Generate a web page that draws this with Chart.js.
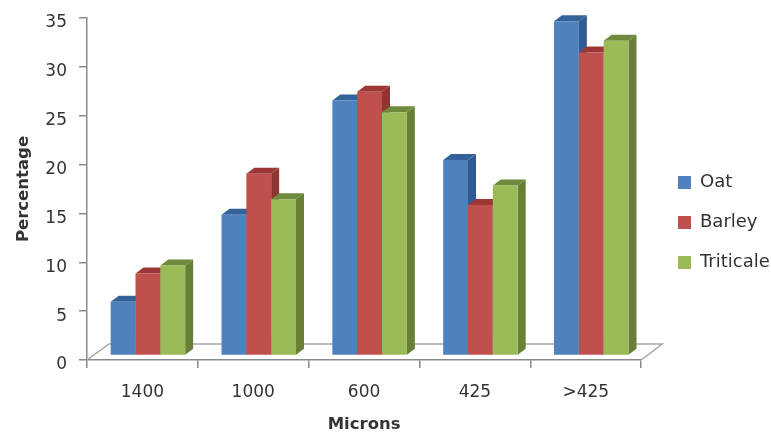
<!DOCTYPE html>
<html>
<head>
<meta charset="utf-8">
<style>
  html, body { margin: 0; padding: 0; background: #fff; }
  canvas { display: block; }
</style>
<script src="https://cdn.jsdelivr.net/npm/chart.js@4"></script>
</head>
<body>
<canvas id="chart" width="771" height="435"></canvas>
<script>
const categories = ['1400', '1000', '600', '425', '>425'];
const oat = [5.5, 14.4, 26.1, 20, 34.2];
const barley = [8.4, 18.6, 27, 15.4, 31];
const triticale = [9.2, 16, 24.9, 17.4, 32.2];

const textColor = '#333333';
const axisColor = '#8a8a8a';
const fontName = '"DejaVu Sans", sans-serif';

// darker shades for the side and top faces of the bars
const sideColors = ['#2f5b92', '#8f3533', '#677f37'];
const topColors = ['#34639c', '#9c3735', '#6f8a3c'];

const depthX = 8;
const depthY = 6;
const shiftX = 5.5;
const shiftY = -4.5;
const legendLeft = 656;
const legendLift = 4;

function fillPoly(ctx, color, pts) {
  ctx.fillStyle = color;
  ctx.beginPath();
  pts.forEach((p, i) => (i ? ctx.lineTo(p[0], p[1]) : ctx.moveTo(p[0], p[1])));
  ctx.closePath();
  ctx.fill();
}

function drawFaces(ctx, meta, index) {
  meta.data.forEach((bar) => {
    const r = bar.x + bar.width / 2;
    const l = bar.x - bar.width / 2;
    fillPoly(ctx, sideColors[index], [
      [r, bar.y], [r + depthX, bar.y - depthY],
      [r + depthX, bar.base - depthY], [r, bar.base]
    ]);
    fillPoly(ctx, topColors[index], [
      [l, bar.y], [l + depthX, bar.y - depthY],
      [r + depthX, bar.y - depthY], [r, bar.y]
    ]);
  });
}

// floor of the fake 3D box, then the bars front to back in dataset order
const fake3d = {
  id: 'fake3d',
  afterLayout(chart) {
    // legend clips to its own box, so it has to reach the canvas edge
    chart.legend.left = legendLeft;
    chart.legend.right = chart.width;
    chart.legend.top -= legendLift;
    chart.legend.bottom -= legendLift;
  },
  beforeDatasetsDraw(chart) {
    const { ctx, chartArea: a } = chart;
    ctx.save();
    ctx.strokeStyle = '#a6a6a6';
    ctx.lineWidth = 1.5;
    ctx.beginPath();
    ctx.moveTo(a.left, a.bottom);
    ctx.lineTo(a.left + 22, a.bottom - 16);
    ctx.lineTo(a.right + 21, a.bottom - 16);
    ctx.lineTo(a.right, a.bottom);
    ctx.stroke();
    ctx.translate(shiftX, shiftY);
    chart.data.datasets.forEach((ds, i) => {
      const meta = chart.getDatasetMeta(i);
      drawFaces(ctx, meta, i);
      meta.controller.draw();
    });
    ctx.restore();
  },
  beforeDatasetDraw() {
    return false;
  }
};

new Chart(document.getElementById('chart'), {
  type: 'bar',
  data: {
    labels: categories,
    datasets: [
      { label: 'Oat', data: oat, backgroundColor: '#4f81bd' },
      { label: 'Barley', data: barley, backgroundColor: '#c0504d' },
      { label: 'Triticale', data: triticale, backgroundColor: '#9bbb59' }
    ]
  },
  plugins: [fake3d],
  options: {
    responsive: false,
    animation: false,
    categoryPercentage: 0.672,
    barPercentage: 1,
    layout: { padding: { top: 18, left: 14, right: 6, bottom: 0 } },
    plugins: {
      tooltip: { enabled: false },
      legend: {
        position: 'right',
        labels: {
          boxWidth: 13,
          boxHeight: 13,
          padding: 22,
          color: textColor,
          font: { family: fontName, size: 18 }
        }
      }
    },
    scales: {
      x: {
        afterFit(s) { s.height = 75; },
        border: { color: axisColor, width: 1.5 },
        grid: { drawOnChartArea: false, color: axisColor, tickLength: 8, lineWidth: 1.5 },
        ticks: { color: textColor, padding: 14, maxRotation: 0, font: { family: fontName, size: 17 } },
        title: {
          display: true,
          text: 'Microns',
          color: textColor,
          font: { family: fontName, size: 16.5, weight: 'bold' },
          padding: 0
        }
      },
      y: {
        min: 0,
        max: 35,
        afterFit(s) { s.width = 73; s.paddingTop = 0; s.paddingBottom = 0; },
        border: { color: axisColor, width: 1.5 },
        grid: { drawOnChartArea: false, color: axisColor, tickLength: 8, lineWidth: 1.5 },
        ticks: { stepSize: 5, color: textColor, padding: 12, labelOffset: 5, font: { family: fontName, size: 17 } },
        title: {
          display: true,
          text: 'Percentage',
          color: textColor,
          font: { family: fontName, size: 16.5, weight: 'bold' },
          padding: 0
        }
      }
    }
  }
});
</script>
</body>
</html>
